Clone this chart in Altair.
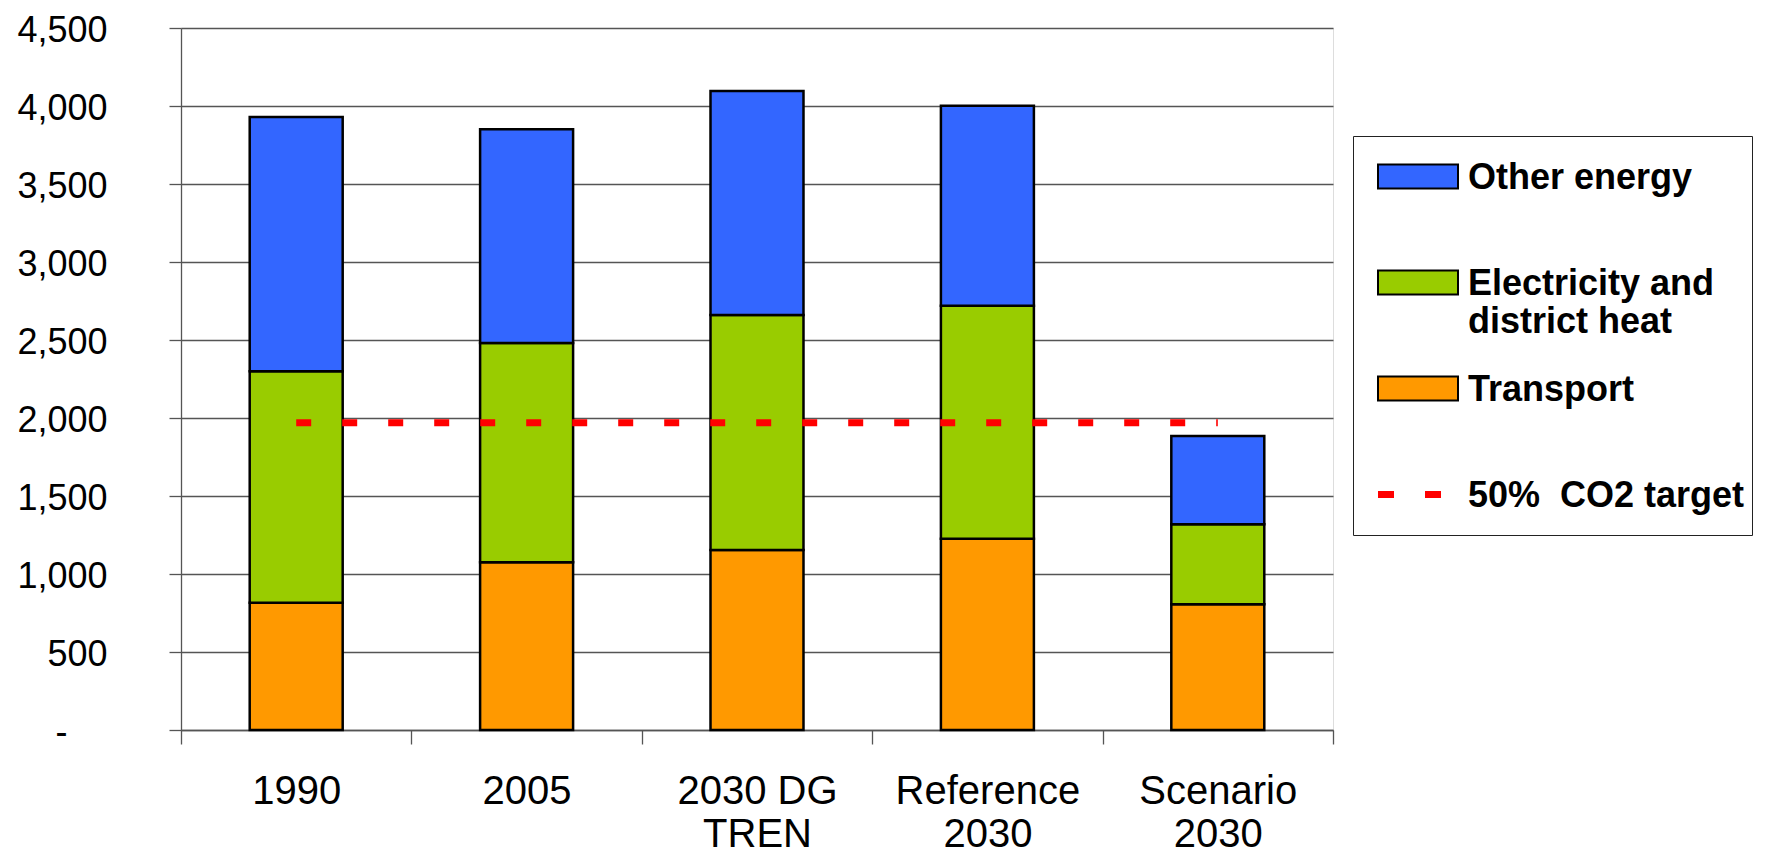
import altair as alt
import pandas as pd

# ---- data ----
categories = ["1990", "2005", "2030 DG\nTREN", "Reference\n2030", "Scenario\n2030"]
series_names = ["Other energy", "Electricity and district heat", "Transport", "50%\u00a0 CO2 target"]
transport = [815, 1075, 1154, 1226, 806]
electricity = [1485, 1406, 1507, 1493, 513]
other_energy = [1630, 1370, 1435, 1283, 566]
co2_target = [1970, 1970, 1970, 1970, 1970]
y_ticks = [0, 500, 1000, 1500, 2000, 2500, 3000, 3500, 4000, 4500]
fill_colors = ["#3366FF", "#99CC00", "#FF9900", "#FF0000"]
stroke_colors = ["black", "black", "black", "transparent"]

rows = []
for i, c in enumerate(categories):
    rows.append({"category": c, "series": series_names[2], "value": transport[i], "ord": 0})
    rows.append({"category": c, "series": series_names[1], "value": electricity[i], "ord": 1})
    rows.append({"category": c, "series": series_names[0], "value": other_energy[i], "ord": 2})
bar_df = pd.DataFrame(rows)
line_df = pd.DataFrame({"category": categories, "series": series_names[3], "value": co2_target})
legend_df = pd.DataFrame({"series": series_names})

FONT = "Liberation Sans"

# legend symbol shapes (symbolSize 400 -> 1 unit == 10 px; symbol drawn 80 px wide)
RECT = "M0,0.35H8V2.75H0Z"
DASHES = "M0,1.2H1.6V1.9H0Z M4.7,1.2H6.3V1.9H4.7Z"
shapes = [RECT, RECT, RECT, DASHES]

legend = alt.Legend(
    title="\u00a0",
    titleOrient="bottom",
    titleFontSize=10,
    titlePadding=4,
    orient="none",
    legendX=1172,
    legendY=108,
    padding=7,
    strokeColor="#222222",
    fillColor="white",
    labelFont=FONT,
    labelFontSize=36,
    labelFontWeight="bold",
    labelColor="black",
    labelBaseline="top",
    labelOffset=72,
    labelLimit=700,
    symbolSize=400,
    symbolStrokeWidth=2,
    symbolOpacity=1,
    labelExpr=(
        "datum.value === 'Electricity and district heat' ? ['Electricity and', 'district heat'] : "
        "(datum.value === 'Other energy' || datum.value === 'Transport' ? [datum.label, '\u00a0'] : datum.label)"
    ),
)

x_axis = alt.Axis(
    title=None,
    labelExpr="split(datum.label, '\\n')",
    labelFont=FONT,
    labelFontSize=40,
    labelColor="black",
    labelAngle=0,
    labelPadding=27,
    labelLineHeight=43,
    labelLimit=400,
    tickBand="extent",
    tickSize=14,
    tickColor="#555555",
    tickWidth=1.3,
    domainColor="#555555",
    domainWidth=1.3,
    grid=False,
)

y_axis = alt.Axis(
    title=None,
    values=y_ticks,
    labelExpr="datum.value == 0 ? '-' : format(datum.value, ',')",
    labelFont=FONT,
    labelFontSize=36,
    labelColor="black",
    labelPadding={"condition": {"test": "datum.value == 0", "value": 102}, "value": 62},
    labelOffset=2,
    tickSize=12,
    tickColor="#555555",
    tickWidth=1.3,
    domainColor="#555555",
    domainWidth=1.3,
    grid=True,
    gridColor="#555555",
    gridWidth=1.3,
)

x_scale = alt.Scale(paddingInner=0, paddingOuter=0)
y_scale = alt.Scale(domain=[0, 4500], nice=False)
fill_scale = alt.Scale(domain=series_names, range=fill_colors)
stroke_scale = alt.Scale(domain=series_names, range=stroke_colors)
shape_scale = alt.Scale(domain=series_names, range=shapes)

bars = alt.Chart(bar_df).mark_bar(stroke="black", strokeWidth=2.5, width={"band": 0.4036}).encode(
    x=alt.X("category:N", sort=categories, scale=x_scale, axis=x_axis),
    y=alt.Y("value:Q", stack="zero", scale=y_scale, axis=y_axis),
    fill=alt.Fill("series:N", scale=fill_scale, legend=legend),
    order=alt.Order("ord:Q", sort="ascending"),
)

line = alt.Chart(line_df).mark_line(
    stroke="#FF0000", strokeWidth=7, strokeDash=[15, 31], strokeCap="butt"
).encode(
    x=alt.X("category:N", sort=categories, bandPosition=0.5),
    y=alt.Y("value:Q"),
)

# legend carrier: no visible marks (all rows filtered), only scales for the legend
legend_layer = alt.Chart(legend_df).transform_filter("false").mark_point(filled=True, opacity=1).encode(
    fill=alt.Fill("series:N", scale=fill_scale, legend=legend),
    stroke=alt.Stroke("series:N", scale=stroke_scale, legend=legend),
    shape=alt.Shape("series:N", scale=shape_scale, legend=legend),
)

chart = alt.layer(bars, line, legend_layer).properties(
    width=1152,
    height=702,
    autosize=alt.AutoSizeParams(type="none"),
    padding={"left": 173, "top": 20, "right": 428, "bottom": 124},
).configure_view(strokeWidth=0).configure(font=FONT).configure_legend(rowPadding=15)

chart.save("out.html", embed_options={"renderer": "svg", "actions": False})
